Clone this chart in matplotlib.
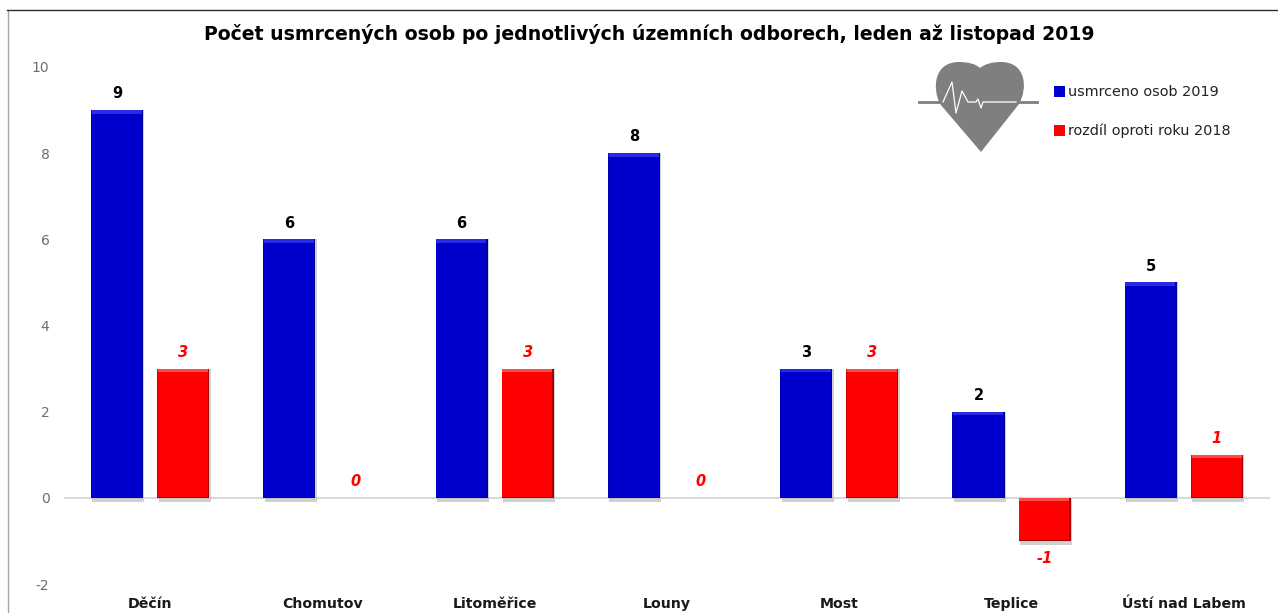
import matplotlib
matplotlib.use("Agg")
import matplotlib.pyplot as plt
import numpy as np
from matplotlib.patches import PathPatch
from matplotlib.path import Path
from matplotlib.lines import Line2D

categories = ["Děčín", "Chomutov", "Litoměřice", "Louny", "Most", "Teplice", "Ústí nad Labem"]
deaths_2019 = [9, 6, 6, 8, 3, 2, 5]
diff_2018 = [3, 0, 3, 0, 3, -1, 1]
yticks = [-2, 0, 2, 4, 6, 8, 10]
ytick_labels = ["-2", "0", "2", "4", "6", "8", "10"]
title = "Počet usmrcených osob po jednotlivých územních odborech, leden až listopad 2019"
label_a = "usmrceno osob 2019"
label_b = "rozdíl oproti roku 2018"

W, H = 1278, 613
plt.rcParams["font.family"] = ["DejaVu Sans"]
fig = plt.figure(figsize=(W / 100, H / 100), dpi=100)
L, R, T, B = 64, 1270, 67, 584
ax = fig.add_axes([L / W, 1 - B / H, (R - L) / W, (B - T) / H])
ax.set_xlim(-0.5, 6.5)
ax.set_ylim(-2, 10)
x = np.arange(len(categories))
off, bw = 0.192, 0.302
cap = 0.08      # height of the light bevel strip, data units
edge = 0.008    # width of the dark bevel edges, category units


def draw(xs, vals, main, light, dark, label):
    for xi, v in zip(xs, vals):
        if v == 0:
            continue
        if v > 0:
            ax.bar(xi + 0.008, v + 0.09, bw, bottom=-0.09, color="#bdbdbd", alpha=0.7, zorder=2, linewidth=0)
        else:
            ax.bar(xi + 0.008, v - 0.09, bw, color="#bdbdbd", alpha=0.7, zorder=2, linewidth=0)
    bars = ax.bar(xs, vals, bw, color=main, zorder=3, label=label, linewidth=0)
    for xi, v in zip(xs, vals):
        if v == 0:
            continue
        top = max(v, 0)
        low = min(v, 0)
        ax.bar(xi, cap, bw, bottom=top - cap, color=light, zorder=4, linewidth=0)
        ax.bar(xi + bw / 2 - edge / 2, top - low, edge, bottom=low, color=dark, zorder=5, linewidth=0)
        ax.bar(xi - bw / 2 + edge / 4, top - low, edge / 2, bottom=low, color=dark, alpha=0.6, zorder=5, linewidth=0)
        ax.bar(xi, 0.03, bw, bottom=low, color=dark, zorder=5, linewidth=0)
    return bars


b1 = draw(x - off, deaths_2019, "#0000cc", "#2a2ae6", "#00009a", label_a)
b2 = draw(x + off, diff_2018, "#ff0000", "#ff4a4a", "#a80000", label_b)

for xi, v in zip(x - off, deaths_2019):
    ax.annotate(str(v), (xi, v), xytext=(0, 6.3), textcoords="offset points", ha="center", va="bottom",
                fontsize=10.5, fontweight="bold", color="black")
for xi, v in zip(x + off, diff_2018):
    ax.annotate(str(v), (xi, v),
                xytext=(0, 6.2 if v >= 0 else -7), textcoords="offset points", ha="center",
                va="bottom" if v >= 0 else "top",
                fontsize=10.5, fontweight="bold", fontstyle="italic", color="#ff0000")

ax.axhline(0, color="#d9d9d9", lw=1.5, zorder=1)
for s in ax.spines.values():
    s.set_visible(False)
ax.set_yticks(yticks)
ax.set_yticklabels(ytick_labels)
ax.tick_params(axis="y", length=0, labelsize=10, labelcolor="#6e6e6e", pad=10.5)
ax.set_xticks(x)
ax.set_xticklabels(categories, fontsize=10.2, fontweight="bold", color="#1a1a1a")
ax.tick_params(axis="x", length=0, pad=9.5)

fig.text(649 / W, 1 - 34 / H, title, ha="center", va="center", fontsize=13.55, fontweight="bold", color="black")

leg = ax.legend(handles=[b1, b2], loc="upper left", bbox_to_anchor=((1054 - L) / (R - L), 1 - (85.5 - T) / (B - T)),
                frameon=False, fontsize=10.4, handlelength=0.75, handleheight=0.75, handletextpad=0.25,
                labelspacing=1.68, borderpad=0, borderaxespad=0, labelcolor="#222222")

# frame lines of the image
fig.add_artist(Line2D([7.5 / W, 7.5 / W], [0, 1 - 9.5 / H], color="#a6a6a6", lw=1))
fig.add_artist(Line2D([7 / W, 1], [1 - 9.5 / H] * 2, color="#303030", lw=1))


# heart icon, in figure pixels
def px(p):
    return (p[0] / W, 1 - p[1] / H)


verts = [(981, 152), (940, 104),
         (932, 88), (934, 62), (959, 62),
         (968, 62), (976, 64), (980, 68),
         (985, 64), (992, 62), (1001, 62),
         (1026, 62), (1028, 88), (1019, 104),
         (981, 152)]
codes = [Path.MOVETO, Path.LINETO,
         Path.CURVE4, Path.CURVE4, Path.CURVE4,
         Path.CURVE4, Path.CURVE4, Path.CURVE4,
         Path.CURVE4, Path.CURVE4, Path.CURVE4,
         Path.CURVE4, Path.CURVE4, Path.CURVE4,
         Path.CLOSEPOLY]
fig.add_artist(PathPatch(Path([px(v) for v in verts], codes), transform=fig.transFigure, fc="#7f7f7f", ec="none"))
fig.add_artist(Line2D([px((919, 0))[0], px((1037, 0))[0]], [px((0, 102))[1]] * 2, color="#7f7f7f", lw=2))
pulse = [(943, 102), (952, 82), (956, 113), (962, 91), (968, 102), (976, 102), (978, 99),
         (981, 108), (983, 102), (1016, 102)]
fig.add_artist(Line2D([px(p)[0] for p in pulse], [px(p)[1] for p in pulse], color="white", lw=0.9))

fig.savefig("out.png", dpi=100)
